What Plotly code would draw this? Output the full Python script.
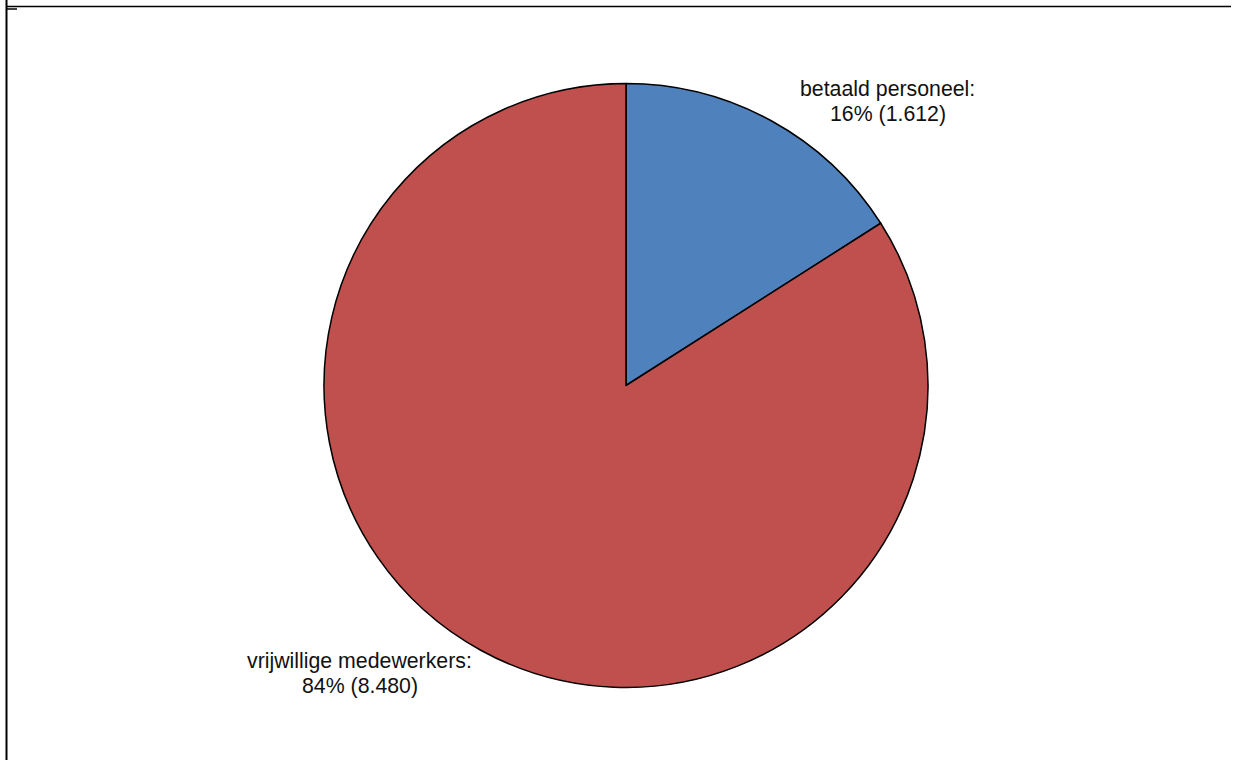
import plotly.graph_objects as go

labels = ["betaald personeel", "vrijwillige medewerkers"]
values = [1612, 8480]
colors = ["#4F81BD", "#C0504D"]

W, H = 1235, 760
total = sum(values)

def fmt(v):
    return f"{v:,}".replace(",", ".")

fig = go.Figure(go.Pie(
    labels=labels,
    values=values,
    sort=False,
    direction="clockwise",
    rotation=0,
    marker=dict(colors=colors, line=dict(color="black", width=1.5)),
    textinfo="none",
    hoverinfo="label+value+percent",
    domain=dict(x=[324 / W, 928 / W], y=[1 - 688 / H, 1 - 83 / H]),
    showlegend=False,
))

font = dict(family="Liberation Sans, Arial, sans-serif", size=21.3, color="#111111")
label_pos = [(888, 89), (360, 661)]
for lab, v, (px, py) in zip(labels, values, label_pos):
    lines = [f"{lab}:", f"{round(100 * v / total)}% ({fmt(v)})"]
    for i, line in enumerate(lines):
        fig.add_annotation(
            x=px / W, y=1 - (py + 25 * i) / H, xref="paper", yref="paper",
            xanchor="center", yanchor="middle",
            text=line, showarrow=False, align="center", font=font,
        )

# frame lines
fig.add_shape(type="line", xref="paper", yref="paper",
              x0=6.5 / W, x1=6.5 / W, y0=0, y1=1, line=dict(color="black", width=2))
fig.add_shape(type="line", xref="paper", yref="paper",
              x0=6 / W, x1=1231 / W, y0=1 - 6.5 / H, y1=1 - 6.5 / H, line=dict(color="black", width=1.5))
fig.add_shape(type="line", xref="paper", yref="paper",
              x0=6 / W, x1=17 / W, y0=1 - 9 / H, y1=1 - 9 / H, line=dict(color="black", width=1.5))

fig.update_layout(
    width=W, height=H,
    margin=dict(l=0, r=0, t=0, b=0),
    paper_bgcolor="white", plot_bgcolor="white",
)

fig.write_html("out.html", config={"displayModeBar": False},
               post_script="document.body.style.margin='0';document.body.style.overflow='hidden';")
